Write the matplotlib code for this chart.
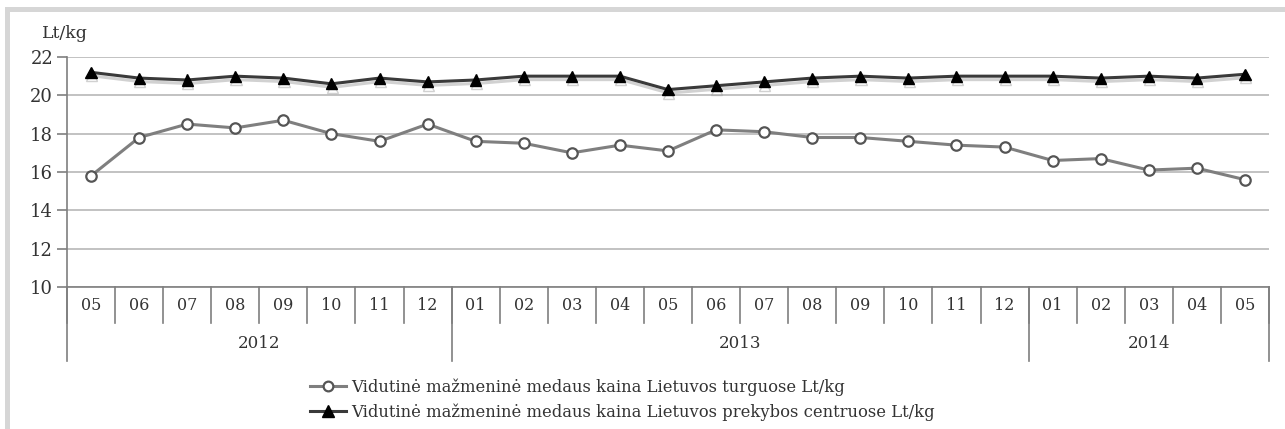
import matplotlib
matplotlib.use("Agg")
import matplotlib.pyplot as plt
import matplotlib.patheffects as pe
from matplotlib.lines import Line2D
from matplotlib.transforms import blended_transform_factory
from matplotlib.patches import Rectangle

months = ["05", "06", "07", "08", "09", "10", "11", "12",
          "01", "02", "03", "04", "05", "06", "07", "08", "09", "10", "11", "12",
          "01", "02", "03", "04", "05"]
years = ["2012", "2013", "2014"]
year_counts = [8, 12, 5]

turgus = [15.8, 17.8, 18.5, 18.3, 18.7, 18.0, 17.6, 18.5,
          17.6, 17.5, 17.0, 17.4, 17.1, 18.2, 18.1, 17.8, 17.8, 17.6, 17.4, 17.3,
          16.6, 16.7, 16.1, 16.2, 15.6]
centrai = [21.2, 20.9, 20.8, 21.0, 20.9, 20.6, 20.9, 20.7,
           20.8, 21.0, 21.0, 21.0, 20.3, 20.5, 20.7, 20.9, 21.0, 20.9, 21.0, 21.0,
           21.0, 20.9, 21.0, 20.9, 21.1]

label_turgus = "Vidutinė mažmeninė medaus kaina Lietuvos turguose Lt/kg"
label_centrai = "Vidutinė mažmeninė medaus kaina Lietuvos prekybos centruose Lt/kg"

plt.rcParams['font.family'] = ['DejaVu Serif', 'Liberation Serif']

W, H = 1285, 429
fig = plt.figure(figsize=(W / 100, H / 100), dpi=100)

# outer gray frame
fig.patches.append(Rectangle((5 / W, 0), 5 / W, 1 - 7 / H, transform=fig.transFigure,
                             facecolor="#d6d6d6", edgecolor="none"))
fig.patches.append(Rectangle((5 / W, 1 - 12 / H), 1 - 5 / W, 5 / H, transform=fig.transFigure,
                             facecolor="#d6d6d6", edgecolor="none"))

left, right = 67 / W, 1269 / W
top, bottom = 1 - 57 / H, 1 - 287 / H
ax = fig.add_axes([left, bottom, right - left, top - bottom])

x = list(range(len(months)))
shadow = [pe.SimpleLineShadow(offset=(0.5, -2.5), shadow_color="#999999", alpha=0.45), pe.Normal()]

ax.plot(x, turgus, color="#7f7f7f", lw=2.2, marker="o", ms=7.5,
        markerfacecolor="white", markeredgecolor="#555555", markeredgewidth=1.6,
        zorder=3)
ax.plot(x, centrai, color="#3a3a3a", lw=2.2, marker="^", ms=8,
        markerfacecolor="black", markeredgecolor="black", zorder=4,
        path_effects=shadow)

ax.set_xlim(-0.5, len(months) - 0.5)
ax.set_ylim(10, 22)
ax.set_yticks(range(10, 23, 2))
ax.yaxis.grid(True, color="#bdbdbd", lw=1.3)
ax.set_axisbelow(True)
for s in ["top", "right"]:
    ax.spines[s].set_visible(False)
ax.spines["left"].set_color("#7f7f7f")
ax.spines["bottom"].set_color("#7f7f7f")
ax.spines["left"].set_linewidth(1.2)
ax.spines["bottom"].set_linewidth(1.2)
ax.tick_params(axis="y", length=7, width=1.2, color="#7f7f7f", labelsize=13,
               labelcolor="#333333", pad=3)
ax.set_xticks([])

tr = blended_transform_factory(ax.transData, ax.transAxes)
ah = 230.0
m_row = -(323 - 287) / ah
y_row = -(361 - 287) / ah

# month separators and labels
for i in range(len(months) + 1):
    ax.plot([i - 0.5, i - 0.5], [0, m_row], color="#7f7f7f", lw=1.2,
            transform=tr, clip_on=False)
for i, m in enumerate(months):
    ax.text(i, -(306 - 287) / ah, m, transform=tr, ha="center", va="center",
            fontsize=11.5, color="#333333")

# year separators and labels
bounds = [0]
for c in year_counts:
    bounds.append(bounds[-1] + c)
for b in bounds:
    ax.plot([b - 0.5, b - 0.5], [0, y_row], color="#7f7f7f", lw=1.2,
            transform=tr, clip_on=False)
for yr, a, b in zip(years, bounds[:-1], bounds[1:]):
    ax.text((a + b - 1) / 2, -(344 - 287) / ah, yr, transform=tr, ha="center",
            va="center", fontsize=12, color="#333333")

ax.text(-0.55, 1 + (57 - 33) / ah, "Lt/kg", transform=tr, ha="center", va="center",
        fontsize=12.5, color="#333333")

handles = [
    Line2D([], [], color="#7f7f7f", lw=2.2, marker="o", ms=7,
           markerfacecolor="white", markeredgecolor="#555555", markeredgewidth=1.6),
    Line2D([], [], color="#3a3a3a", lw=2.2, marker="^", ms=8,
           markerfacecolor="black", markeredgecolor="black"),
]
fig.legend(handles, [label_turgus, label_centrai], loc="upper left",
           bbox_to_anchor=(302 / W, 1 - 370 / H), frameon=False, fontsize=11.8,
           handlelength=2.2, handletextpad=0.3, labelspacing=0.45,
           borderpad=0, labelcolor="#333333")

fig.savefig("out.png", dpi=100, facecolor="white")
